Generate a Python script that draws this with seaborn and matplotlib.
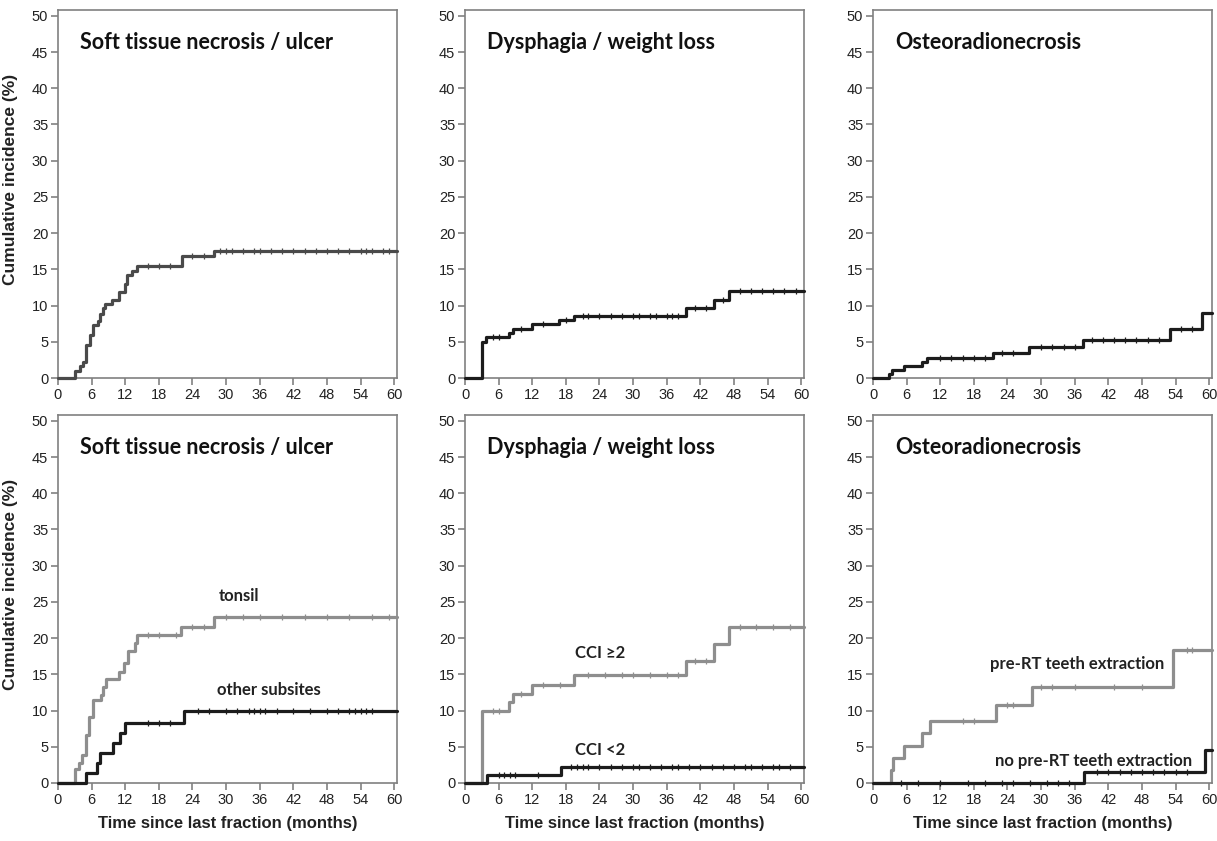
import numpy as np
import pandas as pd
import seaborn as sns
import matplotlib.pyplot as plt

# ---- data (months, cumulative incidence %) ----
soft_t = [0, 3.0, 3.9, 4.45, 5.0, 5.75, 6.2, 7.1, 7.5, 8.0, 8.4, 9.7, 10.9, 11.9, 12.3, 13.2, 14.1, 22.1, 27.8, 60.5]
soft_y = [0, 1.0, 1.6, 2.2, 4.5, 6.0, 7.3, 7.85, 8.8, 9.6, 10.2, 10.8, 11.9, 13.0, 14.2, 14.8, 15.4, 16.8, 17.5, 17.5]
soft_cens = [16, 18, 20, 24, 26, 29, 30, 31, 33, 35, 36, 38, 40, 42, 44, 46, 48, 50, 52, 54, 55, 56, 58, 59]

dys_t = [0, 3.0, 3.7, 7.9, 8.6, 12.0, 16.8, 19.5, 39.5, 44.5, 47.2, 60.5]
dys_y = [0, 5.0, 5.6, 6.25, 6.8, 7.4, 8.0, 8.6, 9.6, 10.7, 12.0, 12.0]
dys_cens = [5, 6, 10, 14, 18, 21, 22, 24, 26, 28, 30, 31, 33, 34, 36, 37, 38, 41, 43, 46, 49, 51, 53, 55, 57, 59]

osteo_t = [0, 2.8, 3.4, 5.5, 8.8, 9.7, 21.5, 27.9, 37.4, 53.0, 58.7, 60.5]
osteo_y = [0, 0.55, 1.1, 1.7, 2.2, 2.7, 3.5, 4.3, 5.3, 6.8, 8.95, 8.95]
osteo_cens = [12, 14, 16, 18, 20, 23, 25, 30, 32, 34, 36, 39, 41, 43, 45, 47, 49, 51, 55, 57]

tonsil_t = [0, 3.0, 3.7, 4.3, 5.0, 5.6, 6.2, 7.6, 8.0, 8.5, 10.9, 11.75, 12.5, 13.7, 14.1, 22.0, 27.9, 60.5]
tonsil_y = [0, 2.0, 2.8, 3.8, 6.6, 9.1, 11.45, 12.1, 13.3, 14.3, 15.3, 16.5, 18.2, 19.3, 20.4, 21.5, 22.9, 22.9]
tonsil_cens = [16, 18, 21, 24, 26, 30, 33, 36, 40, 44, 48, 52, 56, 59]
other_t = [0, 5.0, 7.0, 7.5, 9.8, 11.0, 11.9, 22.4, 60.5]
other_y = [0, 1.4, 2.7, 4.2, 5.5, 6.9, 8.3, 10.0, 10.0]
other_cens = [16, 18, 20, 25, 27, 30, 32, 34, 35, 36, 37, 39, 42, 45, 48, 50, 52, 53, 54, 55, 56]

cci2_t = [0, 3.0, 7.9, 8.6, 12.0, 19.5, 39.5, 44.5, 47.2, 60.5]
cci2_y = [0, 10.0, 11.2, 12.3, 13.5, 14.85, 16.9, 19.2, 21.5, 21.5]
cci2_cens = [5, 6, 10, 14, 17, 22, 25, 28, 30, 33, 36, 38, 41, 43, 49, 52, 55, 58]
cci0_t = [0, 4.0, 17.1, 60.5]
cci0_y = [0, 1.1, 2.2, 2.2]
cci0_cens = [6, 7, 8, 9, 13, 19, 20, 21, 22, 24, 26, 28, 30, 31, 33, 35, 37, 38, 40, 42, 44, 46, 48, 50, 51, 53, 55, 56, 58]

pre_t = [0, 3.2, 3.6, 5.6, 8.7, 10.1, 21.9, 28.4, 53.6, 60.5]
pre_y = [0, 1.8, 3.5, 5.1, 6.9, 8.6, 10.7, 13.2, 18.3, 18.3]
pre_cens = [16, 18, 24, 25, 30, 32, 36, 43, 48, 56, 57]
nopre_t = [0, 37.7, 59.3, 60.5]
nopre_y = [0, 1.5, 4.5, 4.5]
nopre_cens = [5, 8, 12, 17, 20, 23, 25, 28, 31, 33, 35, 40, 42, 44, 46, 48, 50, 52, 54, 56]

titles = ["Soft tissue necrosis / ulcer", "Dysphagia / weight loss", "Osteoradionecrosis"] * 2
dark = "#1c1c1c"
grey = "#8e8e8e"

# (times, values, censored times, colour, label, label x, label y)
panels = [
    [(soft_t, soft_y, soft_cens, "#4a4a4a", None, 0, 0)],
    [(dys_t, dys_y, dys_cens, dark, None, 0, 0)],
    [(osteo_t, osteo_y, osteo_cens, dark, None, 0, 0)],
    [(tonsil_t, tonsil_y, tonsil_cens, grey, "tonsil", 28.6, 25.8),
     (other_t, other_y, other_cens, dark, "other subsites", 28.4, 12.8)],
    [(cci2_t, cci2_y, cci2_cens, grey, "CCI \u22652", 19.6, 18.0),
     (cci0_t, cci0_y, cci0_cens, dark, "CCI <2", 19.6, 4.6)],
    [(pre_t, pre_y, pre_cens, grey, "pre-RT teeth extraction", 20.9, 16.4),
     (nopre_t, nopre_y, nopre_cens, dark, "no pre-RT teeth extraction", 21.8, 3.1)],
]

sns.set_theme(style="ticks")
plt.rcParams["font.family"] = ["Liberation Sans", "DejaVu Sans"]

fig = plt.figure(figsize=(12.17, 8.41), dpi=100)
lefts = [58 / 1217, 465 / 1217, 873 / 1217]
bottoms = [(841 - 378) / 841, (841 - 783) / 841]
w = 339 / 1217
h = 368 / 841

for i, curves in enumerate(panels):
    row, col = divmod(i, 3)
    ax = fig.add_axes([lefts[col], bottoms[row], w, h])
    for t, y, cens, color, label, lx, ly in curves:
        df = pd.DataFrame({"month": t, "incidence": y})
        sns.lineplot(data=df, x="month", y="incidence", ax=ax, color=color,
                     drawstyle="steps-post", estimator=None, sort=False,
                     linewidth=2.3, legend=False, clip_on=False, zorder=5)
        idx = np.searchsorted(t, cens, side="right") - 1
        cdf = pd.DataFrame({"month": cens, "incidence": np.array(y)[idx]})
        sns.scatterplot(data=cdf, x="month", y="incidence", ax=ax, color=color,
                        marker="|", s=14, linewidth=0.9, legend=False, clip_on=False, zorder=6)
        if label:
            ax.text(lx, ly, label, fontsize=12, fontweight="bold", family=["Lato", "DejaVu Sans"],
                    color="#222222", va="center", ha="left")
    ax.text(0.065, 0.913, titles[i], transform=ax.transAxes, fontsize=15.5,
            fontweight="bold", family=["Lato", "DejaVu Sans"], color="#111111", va="center")
    ax.set_xlim(0, 60.5)
    ax.set_ylim(0, 50.8)
    ax.set_xticks(range(0, 61, 6))
    ax.set_yticks(range(0, 51, 5))
    ax.tick_params(labelsize=10.5, length=5, width=1.1, color="#777777", labelcolor="#222222", pad=2)
    for sp in ax.spines.values():
        sp.set_visible(True)
        sp.set_color("#808080")
        sp.set_linewidth(1.2)
    ax.set_xlabel("")
    ax.set_ylabel("")
    if col == 0:
        ax.set_ylabel("Cumulative incidence (%)", fontsize=12.5, fontweight="bold", color="#222222")
        ax.yaxis.set_label_coords(-0.118, 0.54)
    if row == 1:
        ax.set_xlabel("Time since last fraction (months)", fontsize=12, fontweight="bold", color="#222222")
        ax.xaxis.set_label_coords(0.5, -0.09)

fig.savefig("out.png", dpi=100)
